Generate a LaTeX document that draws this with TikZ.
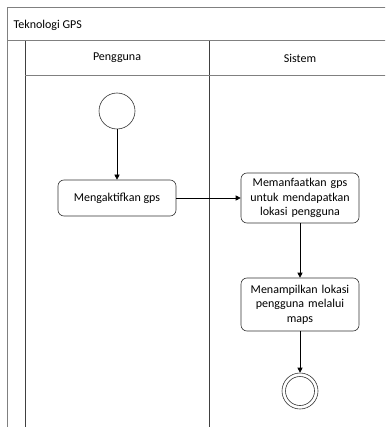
\documentclass[tikz,border=0pt]{standalone}
\usepackage{fontspec}
\setmainfont{Carlito}
\usetikzlibrary{arrows.meta}
\begin{document}
\begin{tikzpicture}[x=1pt,y=-1pt,
  lane/.style={draw=black!75,line width=0.8pt},
  frame/.style={draw=black!50,line width=1pt},
  act/.style={draw=black!80,line width=0.6pt,rounded corners=6pt,align=center,font=\fontsize{12}{14.5}\selectfont,inner sep=1pt},
  flow/.style={draw=black,line width=0.6pt,-{Triangle[length=5pt,width=5pt]}},
  lbl/.style={font=\fontsize{12}{14}\selectfont}]
\useasboundingbox (0,0) rectangle (385,427);
\begin{scope}
\clip (0,0) rectangle (385,427);
% frame
\draw[frame] (7,427) -- (7,8) -- (390,8);
\draw[frame] (7,41) -- (390,41);
\draw[lane] (25,41) -- (25,430);
\draw[lane] (209,41) -- (209,430);
\draw[frame] (25,76) -- (390,76);
\end{scope}
\node[lbl,anchor=west] (title) at (10,25) {Teknologi GPS};
\node[lbl] (l1) at (117,58) {Pengguna};
\node[lbl] (l2) at (300,58) {Sistem};
% nodes
\node[draw=black!80,line width=0.6pt,circle,minimum size=36pt,inner sep=0pt] (start) at (117,111) {};
\node[act,minimum width=118pt,minimum height=36pt] (a1) at (117,198) {Mengaktifkan gps};
\node[act,minimum width=118pt,minimum height=50pt,text width=114pt] (a2) at (300,198) {Memanfaatkan gps\\untuk mendapatkan\\lokasi pengguna};
\node[act,minimum width=118pt,minimum height=53pt,text width=114pt] (a3) at (300,304.5) {Menampilkan lokasi\\pengguna melalui\\maps};
\node[draw=black!80,line width=0.6pt,circle,minimum size=36pt,inner sep=0pt] (end) at (300,391) {};
\node[draw=black!80,line width=0.6pt,circle,minimum size=29pt,inner sep=0pt] (endin) at (300,391) {};
% flows
\draw[flow] (start) -- (a1);
\draw[flow] (a1) -- (a2);
\draw[flow] (a2) -- (a3);
\draw[flow] (a3) -- (end);
\end{tikzpicture}
\end{document}
